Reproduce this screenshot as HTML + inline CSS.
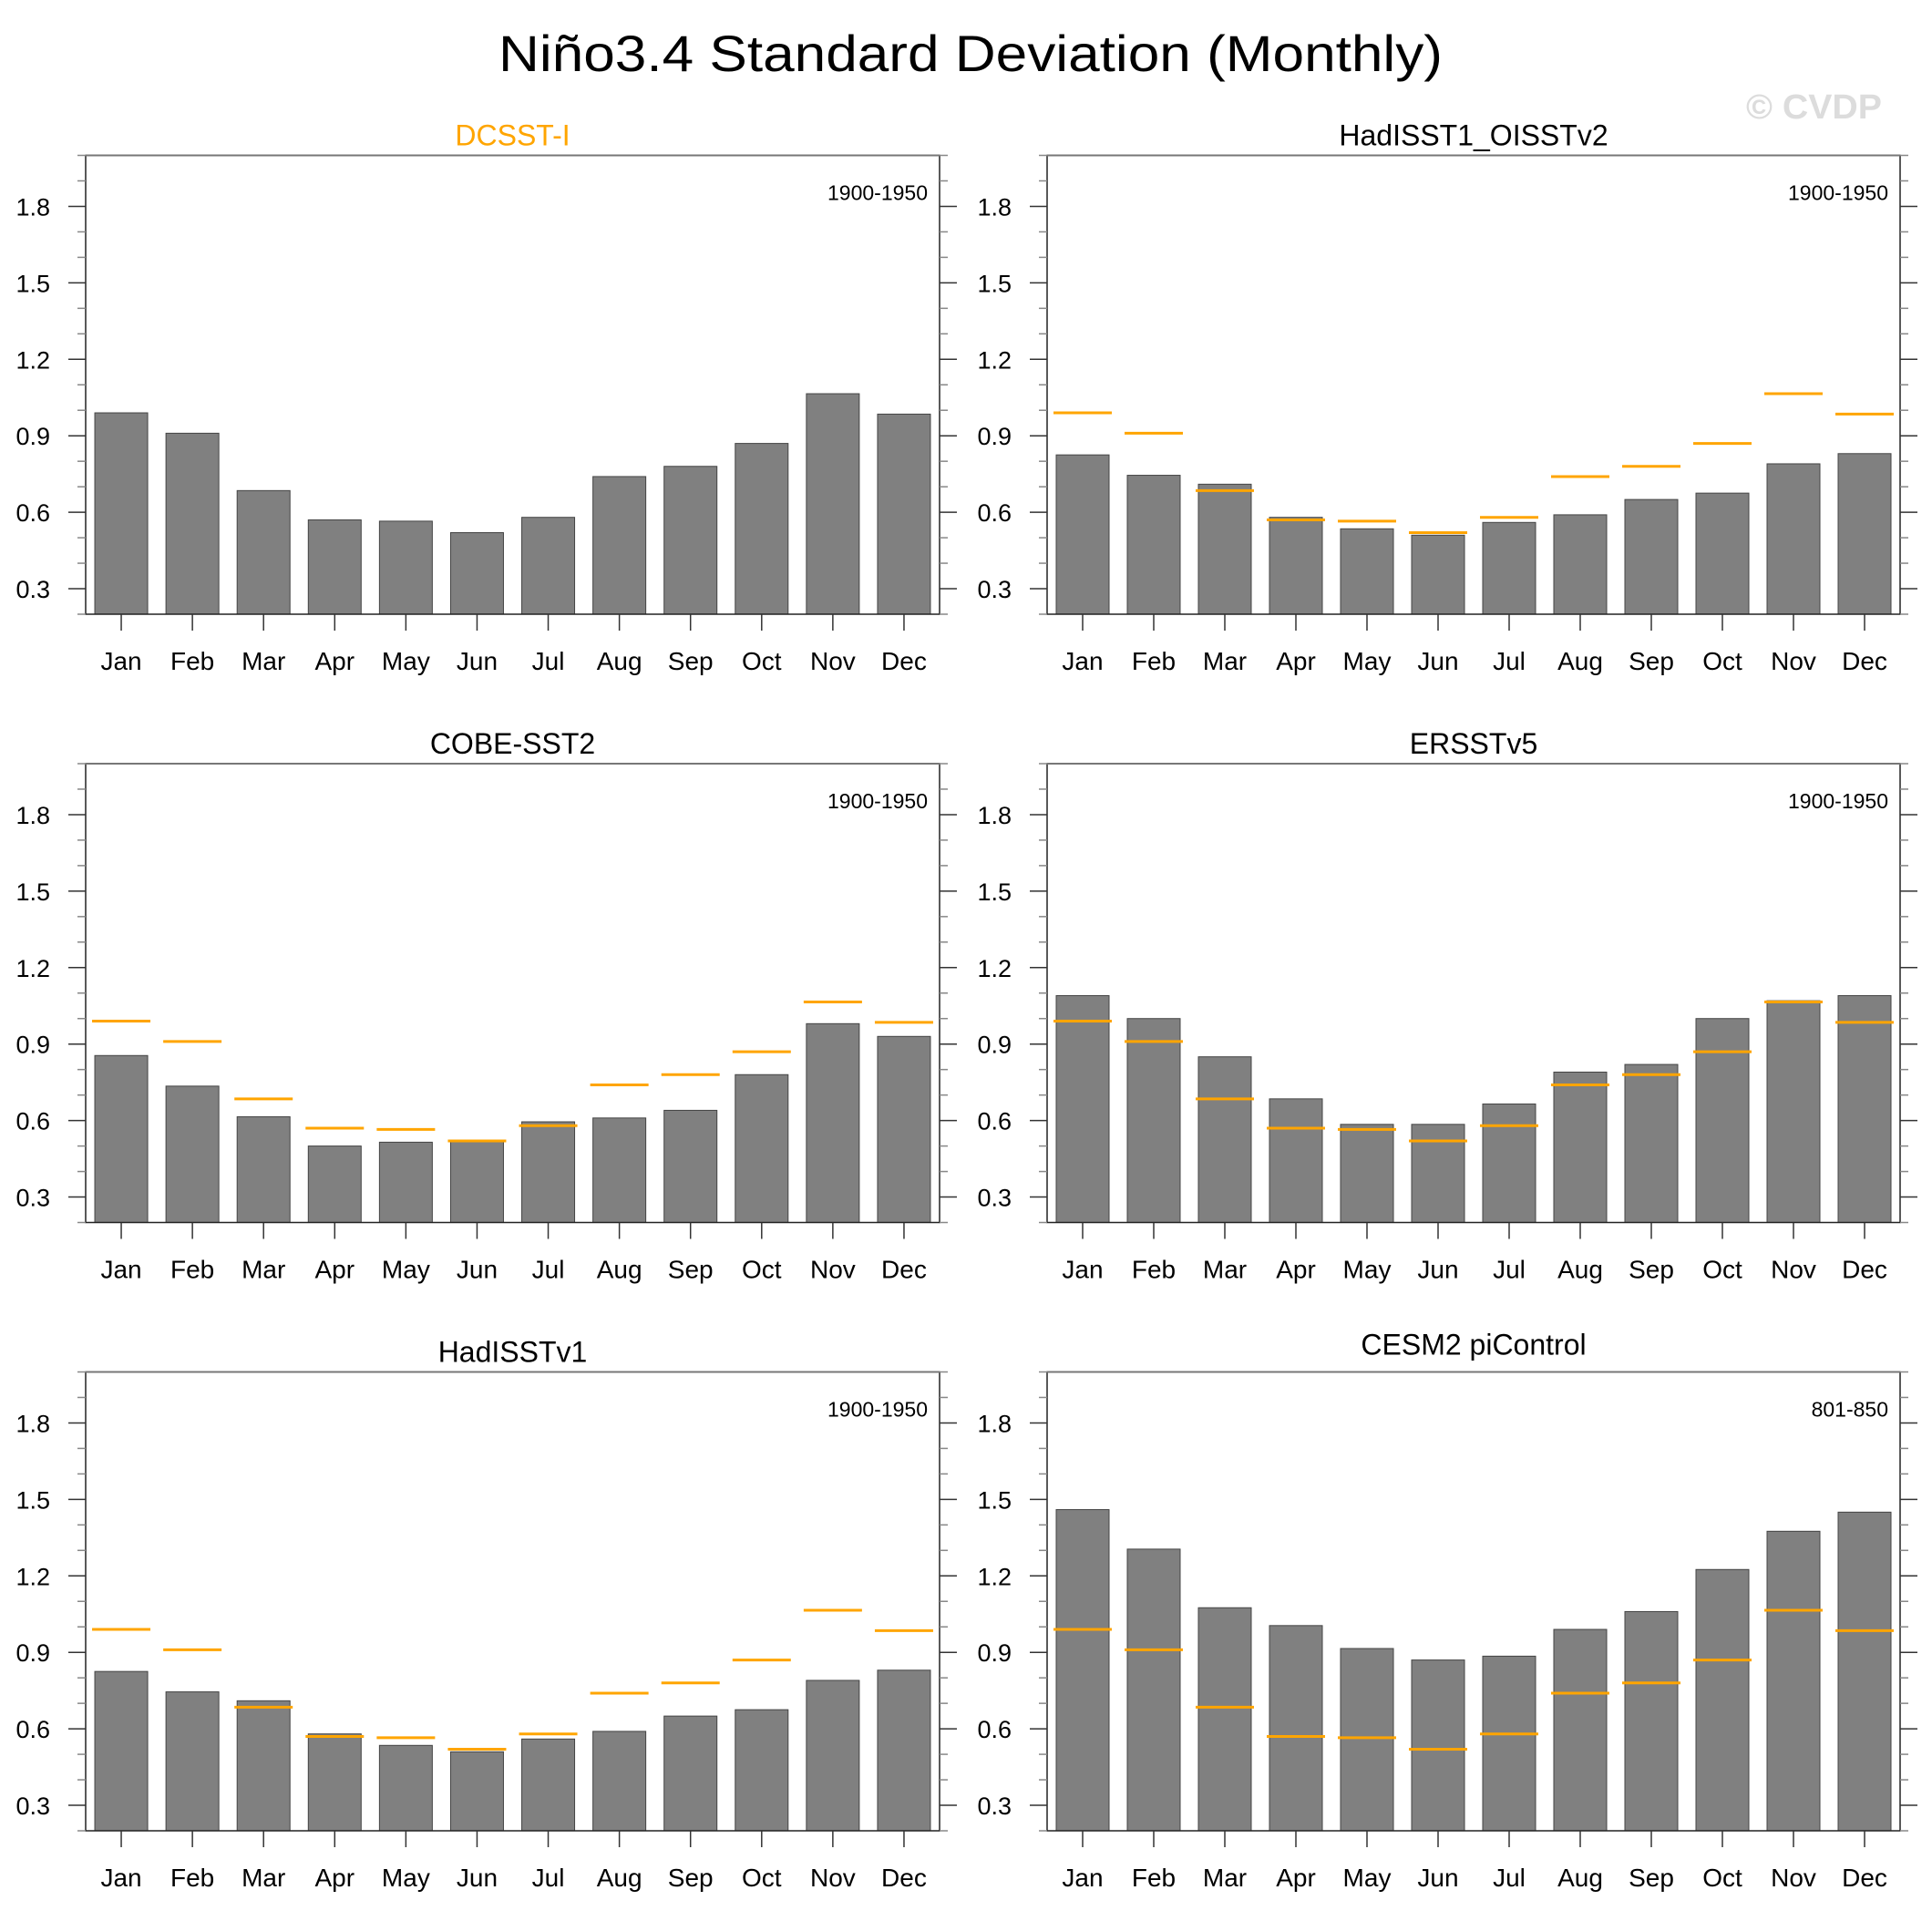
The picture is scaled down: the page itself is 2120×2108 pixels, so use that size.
<!DOCTYPE html>
<html><head><meta charset="utf-8">
<style>
html,body{margin:0;padding:0;background:#fff;}
svg{display:block;font-family:"Liberation Sans",Arial,sans-serif;}
</style></head>
<body>
<svg id="chart" width="2120" height="2108" viewBox="0 0 2120 2108" xmlns="http://www.w3.org/2000/svg">
<text x="1065" y="78" font-size="56" text-anchor="middle" textLength="1036" lengthAdjust="spacingAndGlyphs">Niño3.4 Standard Deviation (Monthly)</text>
<text x="2065" y="130" font-size="38" font-weight="bold" fill="#dcdcdc" text-anchor="end" textLength="149" lengthAdjust="spacingAndGlyphs">© CVDP</text>
</svg>
<script>
const months = ["Jan","Feb","Mar","Apr","May","Jun","Jul","Aug","Sep","Oct","Nov","Dec"];
const yTicks = [0.3,0.6,0.9,1.2,1.5,1.8];
const yTickLabels = ["0.3","0.6","0.9","1.2","1.5","1.8"];
const panelTitles = ["DCSST-I","HadISST1_OISSTv2","COBE-SST2","ERSSTv5","HadISSTv1","CESM2 piControl"];
const panelPeriods = ["1900-1950","1900-1950","1900-1950","1900-1950","1900-1950","801-850"];
const refValues = [0.99,0.91,0.685,0.57,0.565,0.52,0.58,0.74,0.78,0.87,1.065,0.985];
const dcsstValues = [0.99,0.91,0.685,0.57,0.565,0.52,0.58,0.74,0.78,0.87,1.065,0.985];
const hadOiValues = [0.825,0.745,0.71,0.58,0.535,0.51,0.56,0.59,0.65,0.675,0.79,0.83];
const cobeValues = [0.855,0.735,0.615,0.5,0.515,0.52,0.595,0.61,0.64,0.78,0.98,0.93];
const erssValues = [1.09,1.0,0.85,0.685,0.585,0.585,0.665,0.79,0.82,1.0,1.07,1.09];
const hadV1Values = [0.825,0.745,0.71,0.58,0.535,0.51,0.56,0.59,0.65,0.675,0.79,0.83];
const cesmValues = [1.46,1.305,1.075,1.005,0.915,0.87,0.885,0.99,1.06,1.225,1.375,1.45];
const seriesList = [dcsstValues,hadOiValues,cobeValues,erssValues,hadV1Values,cesmValues];
const showRef = [false,true,true,true,true,true];

const NS="http://www.w3.org/2000/svg";
const svg=document.getElementById('chart');
function mk(tag,attrs,parent){const e=document.createElementNS(NS,tag);for(const k in attrs)e.setAttribute(k,attrs[k]);(parent||svg).appendChild(e);return e;}

const cols=[[94,1031],[1149,2085]];
const rows=[[170.5,674],[838,1341.5],[1505.5,2009]];
const YMIN=0.2,YMAX=2.0;

for(let p=0;p<6;p++){
  const c=p%2,r=Math.floor(p/2);
  const x0=cols[c][0],x1=cols[c][1],y0=rows[r][0],y1=rows[r][1];
  const g=mk('g',{});
  
  
  const ys=v=>y1-(v-YMIN)/(YMAX-YMIN)*(y1-y0);
  const step=(x1-x0)/12;
  const xs=i=>x0+step*(i+0.5);
  const bw=58;
  seriesList[p].forEach((v,i)=>{
    const b=mk('rect',{x:xs(i)-bw/2,y:ys(v),width:bw,height:y1-ys(v),fill:'#808080',stroke:'#444','stroke-width':1},g);
    
    
  });
  if(showRef[p]){
    refValues.forEach((v,i)=>{
      const l=mk('line',{x1:xs(i)-bw/2-3,x2:xs(i)+bw/2+3,y1:ys(v),y2:ys(v),stroke:'#FFA500','stroke-width':3},g);
      
      
    });
  }
  const f=mk('rect',{x:x0,y:y0,width:x1-x0,height:y1-y0,fill:'none',stroke:'#222','stroke-width':1.5},g);
  
  
  mk('line',{x1:x0,x2:x1,y1:y0,y2:y0,stroke:'#777','stroke-width':2},g);
  for(let k=2;k<=20;k++){
    const v=k/10, y=ys(v), major=(k%3===0);
    const len=major?19:9;
    mk('line',{x1:x0-len,x2:x0,y1:y,y2:y,stroke:major?'#333':'#888','stroke-width':1.5},g);
    mk('line',{x1:x1,x2:x1+len,y1:y,y2:y,stroke:major?'#333':'#888','stroke-width':1.5},g);
  }
  yTicks.forEach((v,i)=>{
    const t=mk('text',{x:x0-39,y:ys(v)+10,'font-size':27,'text-anchor':'end'},g);
    t.textContent=yTickLabels[i];
    
    
  });
  months.forEach((m,i)=>{
    mk('line',{x1:xs(i),x2:xs(i),y1:y1,y2:y1+18,stroke:'#333','stroke-width':1.5},g);
    const t=mk('text',{x:xs(i),y:y1+61,'font-size':28,'text-anchor':'middle'},g);
    t.textContent=m;
    
    
  });
  const tt=mk('text',{x:(x0+x1)/2,y:y0-11-(p===5?8:0),'font-size':32,'text-anchor':'middle',fill:p===0?'#FFA500':'#000'},g);
  tt.textContent=panelTitles[p];
  
  
  const pt=mk('text',{x:x1-13,y:y0+49,'font-size':23,'text-anchor':'end'},g);
  pt.textContent=panelPeriods[p];
  
  
}
</script>
</body></html>
